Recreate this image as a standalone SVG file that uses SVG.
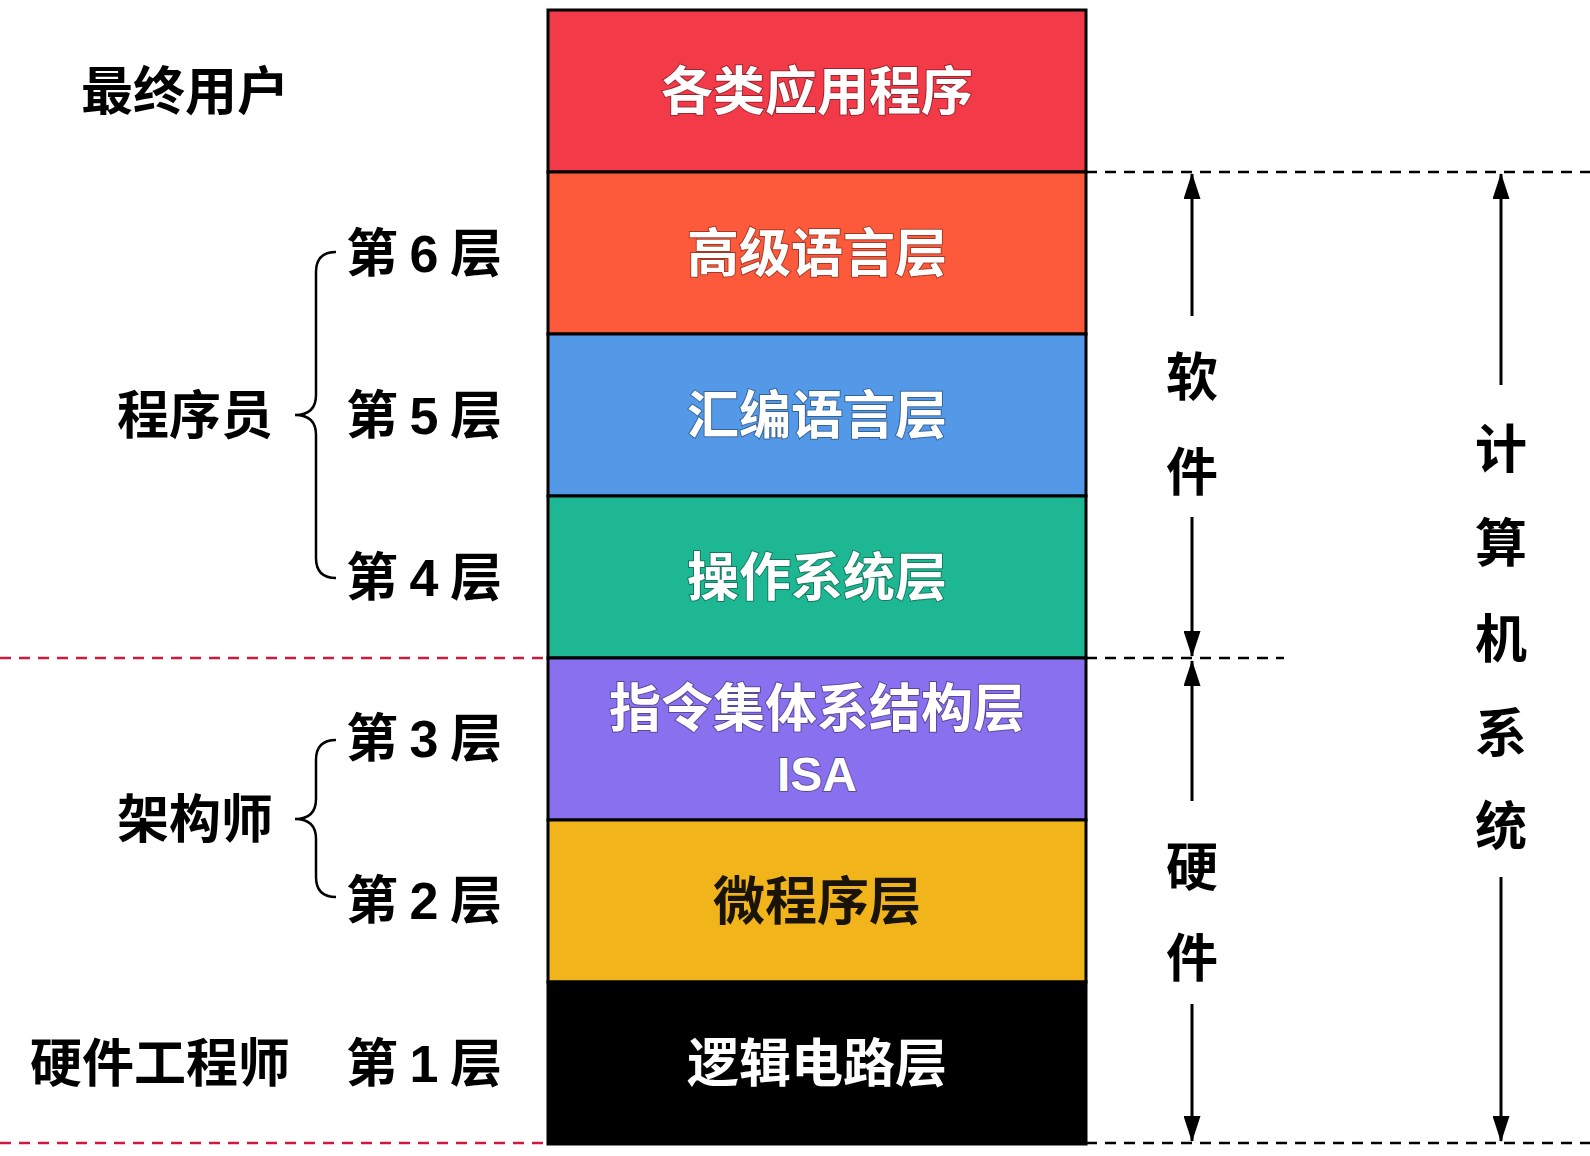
<svg xmlns="http://www.w3.org/2000/svg" width="1590" height="1156" viewBox="0 0 1590 1156">
<style>
.t{font-family:"Liberation Sans","Noto Sans CJK SC",sans-serif;font-weight:700;font-size:52px}
.in{fill:#fff;text-anchor:middle;stroke:rgba(0,0,0,0.35);stroke-width:2px;paint-order:stroke}
.lbl{fill:#000}
.mid{text-anchor:middle}
.box{stroke:#000;stroke-width:3}
.dash{fill:none;stroke:#000;stroke-width:2.5;stroke-dasharray:11 8}
.rdash{fill:none;stroke:#D0183C;stroke-width:2.5;stroke-dasharray:11 8}
.arr{fill:none;stroke:#000;stroke-width:3}
.brace{fill:none;stroke:#000;stroke-width:2.5}
</style>
<defs>
<marker id="ah" viewBox="0 0 26 17" refX="25" refY="8.5" markerWidth="26" markerHeight="17" markerUnits="userSpaceOnUse" orient="auto">
<path d="M0,0 L26,8.5 L0,17 z" fill="#000"/>
</marker>
</defs>
<rect width="1590" height="1156" fill="#fff"/>

<g id="layer-app">
<rect class="box" x="548" y="10" width="538" height="162" fill="#F33A48"/>
<text class="t in" x="817" y="110">各类应用程序</text>
</g>
<g id="layer-6">
<rect class="box" x="548" y="172" width="538" height="162" fill="#FC5A3B"/>
<text class="t in" x="817" y="272">高级语言层</text>
</g>
<g id="layer-5">
<rect class="box" x="548" y="334" width="538" height="162" fill="#5499E8"/>
<text class="t in" x="817" y="434">汇编语言层</text>
</g>
<g id="layer-4">
<rect class="box" x="548" y="496" width="538" height="162" fill="#1DB893"/>
<text class="t in" x="817" y="596">操作系统层</text>
</g>
<g id="layer-3">
<rect class="box" x="548" y="658" width="538" height="162" fill="#8870EE"/>
<text class="t in" x="817" y="727">指令集体系结构层</text>
<text class="t in" x="817" y="791" style="font-size:48px">ISA</text>
</g>
<g id="layer-2">
<rect class="box" x="548" y="820" width="538" height="162" fill="#F1B51B"/>
<text class="t mid" x="817" y="920" fill="#1a1408">微程序层</text>
</g>
<g id="layer-1">
<rect class="box" x="548" y="982" width="538" height="162" fill="#000"/>
<text class="t in" x="817" y="1082">逻辑电路层</text>
</g>

<g id="roles">
<text class="t lbl" x="81" y="110">最终用户</text>
<text class="t lbl" x="117" y="434">程序员</text>
<text class="t lbl" x="117" y="838">架构师</text>
<text class="t lbl" x="30" y="1082">硬件工程师</text>
</g>

<g id="level-labels">
<text class="t lbl" x="346" y="272" textLength="156">第 6 层</text>
<text class="t lbl" x="346" y="434" textLength="156">第 5 层</text>
<text class="t lbl" x="346" y="596" textLength="156">第 4 层</text>
<text class="t lbl" x="346" y="757" textLength="156">第 3 层</text>
<text class="t lbl" x="346" y="919" textLength="156">第 2 层</text>
<text class="t lbl" x="346" y="1082" textLength="156">第 1 层</text>
</g>

<g id="side-labels">
<text class="t lbl mid" x="1192" y="396">软</text>
<text class="t lbl mid" x="1192" y="491">件</text>
<text class="t lbl mid" x="1192" y="886">硬</text>
<text class="t lbl mid" x="1192" y="977">件</text>
<text class="t lbl mid" x="1501" y="468">计</text>
<text class="t lbl mid" x="1501" y="562">算</text>
<text class="t lbl mid" x="1501" y="658">机</text>
<text class="t lbl mid" x="1501" y="752">系</text>
<text class="t lbl mid" x="1501" y="845">统</text>
</g>

<g id="connectors">
<path class="brace" d="M336,252 Q316,252 316,272 L316,395 Q316,415 295,415 Q316,415 316,435 L316,558 Q316,578 336,578"/>
<path class="brace" d="M336,740 Q316,740 316,760 L316,799 Q316,819 295,819 Q316,819 316,839 L316,877 Q316,897 336,897"/>
<line class="dash" x1="1086" y1="172" x2="1590" y2="172"/>
<line class="dash" x1="1086" y1="658" x2="1284" y2="658"/>
<line class="dash" x1="1086" y1="1143" x2="1590" y2="1143"/>
<line class="rdash" x1="0" y1="658" x2="548" y2="658"/>
<line class="rdash" x1="0" y1="1143" x2="548" y2="1143"/>
<line class="arr" x1="1192" y1="316" x2="1192" y2="174" marker-end="url(#ah)"/>
<line class="arr" x1="1192" y1="517" x2="1192" y2="656" marker-end="url(#ah)"/>
<line class="arr" x1="1192" y1="801" x2="1192" y2="661" marker-end="url(#ah)"/>
<line class="arr" x1="1192" y1="1004" x2="1192" y2="1141" marker-end="url(#ah)"/>
<line class="arr" x1="1501" y1="385" x2="1501" y2="174" marker-end="url(#ah)"/>
<line class="arr" x1="1501" y1="877" x2="1501" y2="1141" marker-end="url(#ah)"/>
</g>
</svg>
